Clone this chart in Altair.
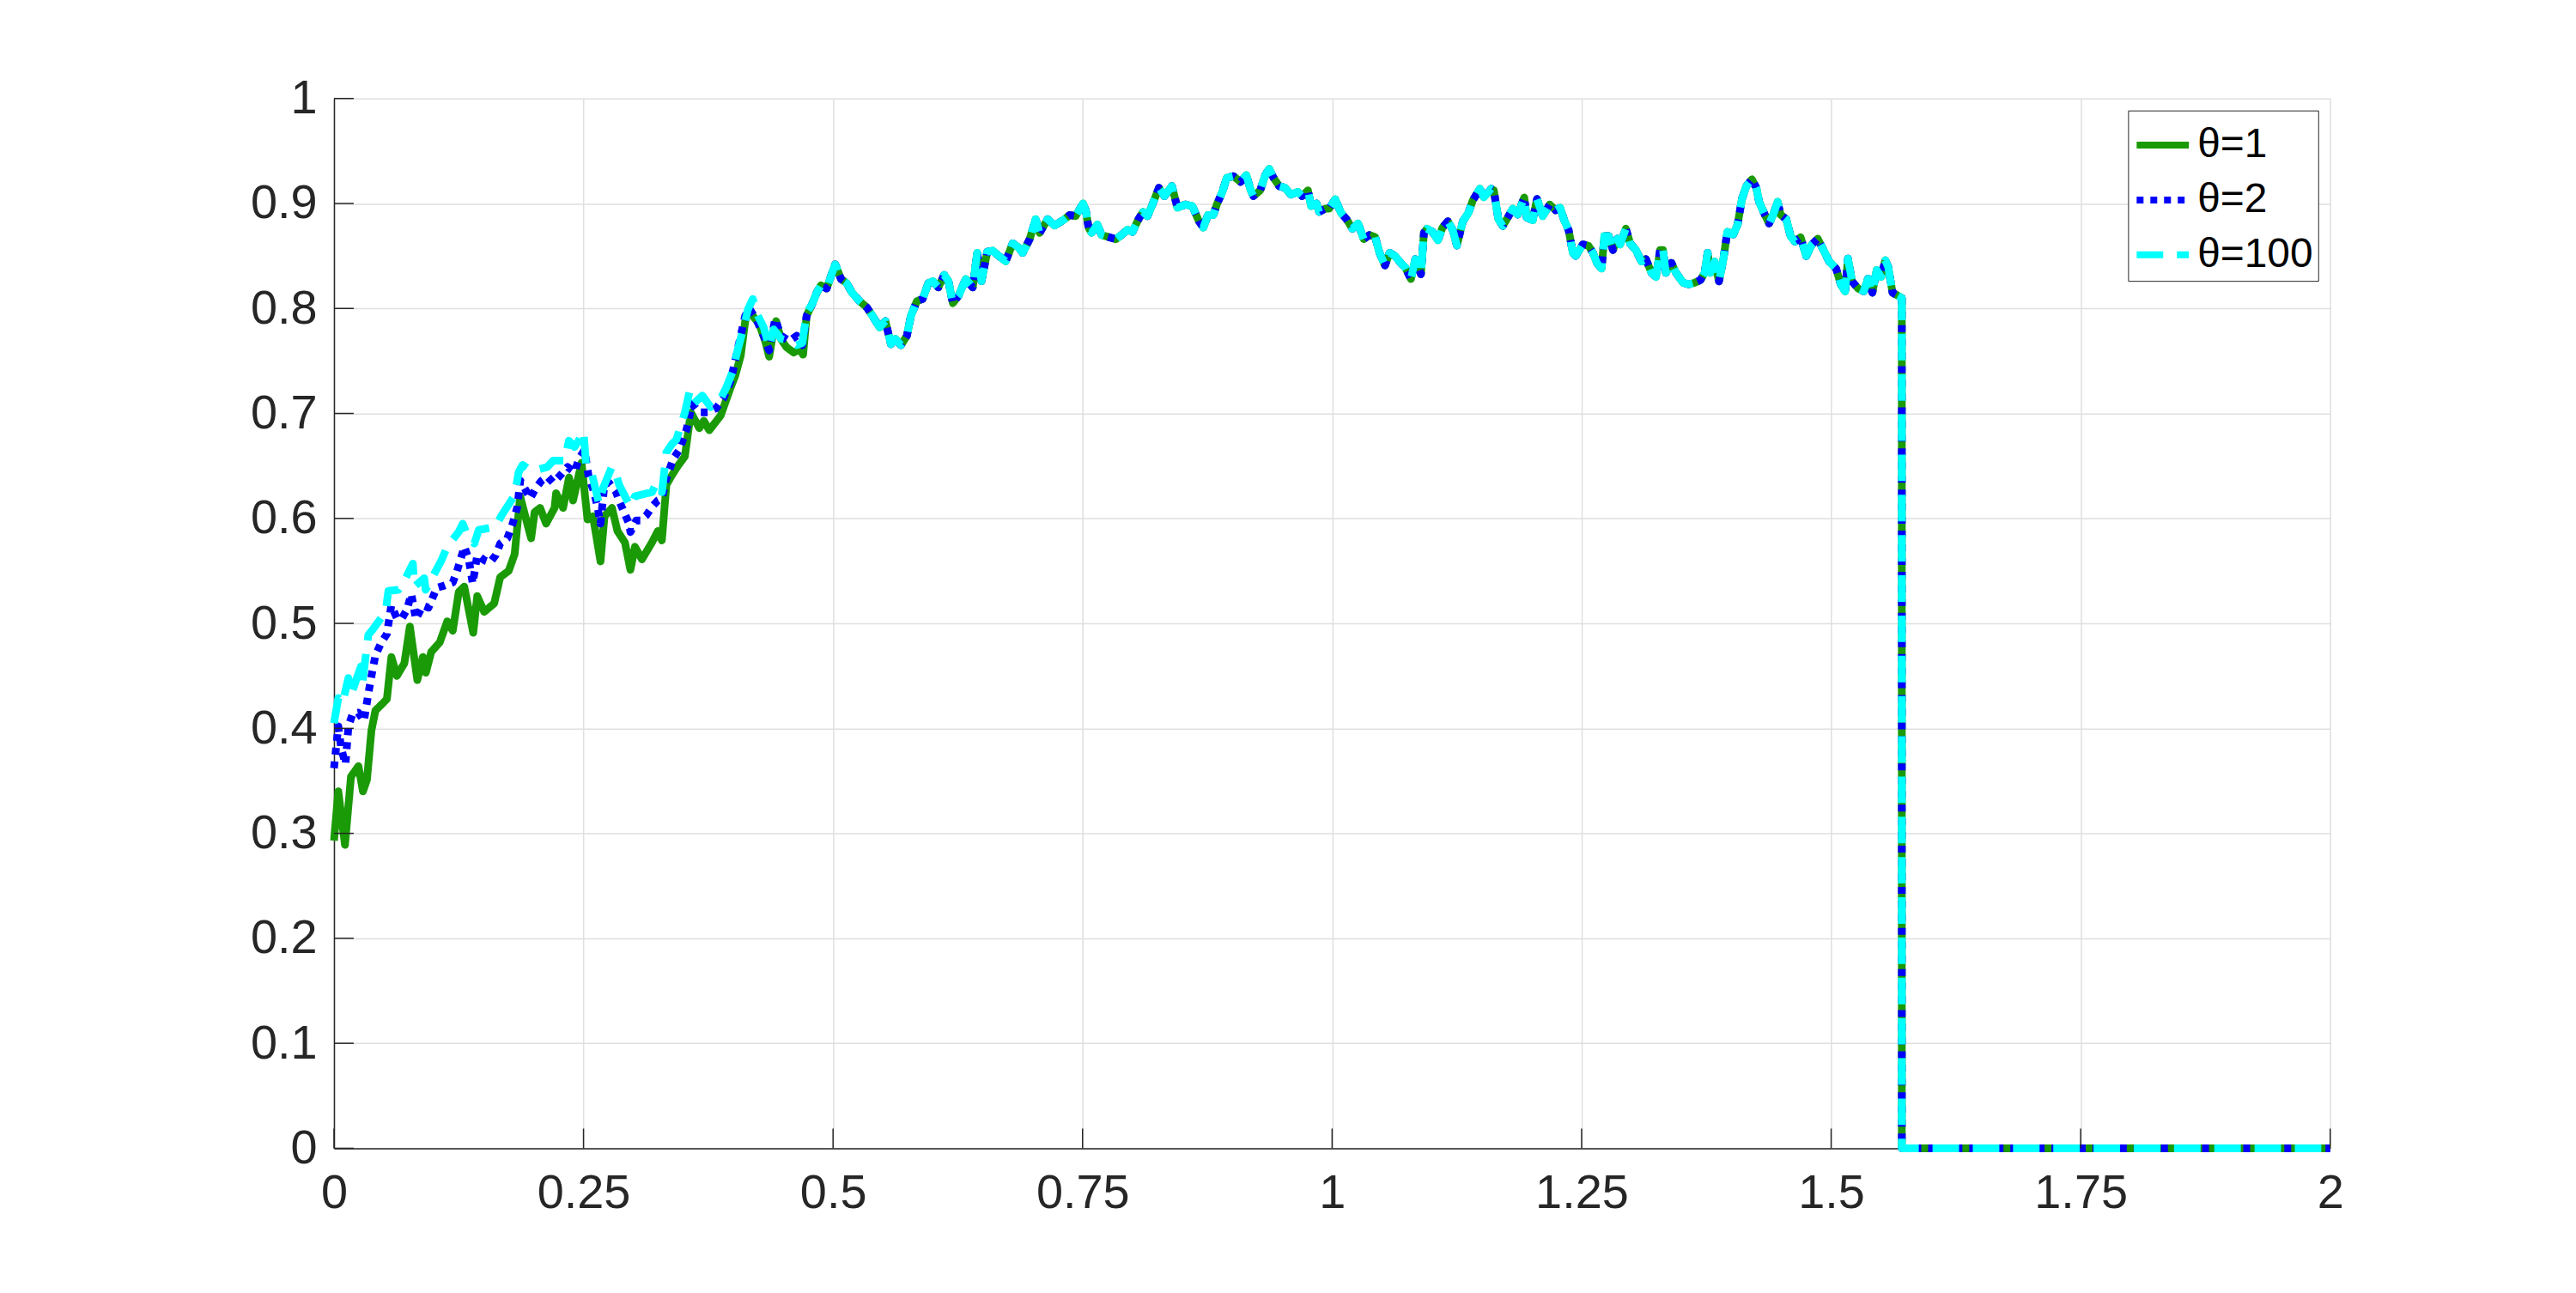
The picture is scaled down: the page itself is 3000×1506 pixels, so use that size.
import altair as alt
import pandas as pd

SERIES = ["θ=1", "θ=2", "θ=100"]
COLORS = ["#1a9a06", "#0000ff", "#00ffff"]
DASHES = [[1, 0], [8, 8], [31, 16]]

X_TICKS = [0, 0.25, 0.5, 0.75, 1, 1.25, 1.5, 1.75, 2]
Y_TICKS = [0, 0.1, 0.2, 0.3, 0.4, 0.5, 0.6, 0.7, 0.8, 0.9, 1.0]

# theta = 1 (green), the part where it differs from the others
green_early = [
    (0, 0.293), (0.0043, 0.340), (0.011, 0.289), (0.017, 0.354), (0.0245, 0.364),
    (0.029, 0.340), (0.033, 0.351), (0.0375, 0.398), (0.0415, 0.417), (0.049, 0.424),
    (0.053, 0.428), (0.0575, 0.468), (0.063, 0.450), (0.0705, 0.462), (0.076, 0.497),
    (0.0835, 0.446), (0.089, 0.468), (0.092, 0.453), (0.0975, 0.473), (0.106, 0.482),
    (0.1135, 0.502), (0.119, 0.493), (0.125, 0.530), (0.1305, 0.535), (0.1395, 0.491),
    (0.1435, 0.526), (0.1505, 0.511), (0.1605, 0.519), (0.1665, 0.544), (0.175, 0.550),
    (0.181, 0.566), (0.1865, 0.621), (0.1925, 0.599), (0.1975, 0.581), (0.201, 0.606),
    (0.2065, 0.610), (0.2125, 0.595), (0.221, 0.610), (0.2225, 0.624), (0.2295, 0.610),
    (0.2355, 0.639), (0.2395, 0.617), (0.248, 0.653), (0.254, 0.599), (0.2595, 0.602),
    (0.267, 0.559), (0.271, 0.602), (0.2785, 0.610), (0.284, 0.588), (0.2915, 0.577),
    (0.297, 0.551), (0.3015, 0.573), (0.3085, 0.561), (0.3185, 0.577), (0.3245, 0.588),
    (0.3285, 0.579), (0.333, 0.632), (0.3385, 0.641), (0.3445, 0.650), (0.3515, 0.659),
    (0.3575, 0.701), (0.366, 0.686), (0.3705, 0.693), (0.376, 0.684), (0.3874, 0.698),
    (0.3975, 0.725), (0.402, 0.736), (0.4075, 0.755), (0.412, 0.788), (0.416, 0.799),
    (0.4204, 0.792), (0.426, 0.785), (0.432, 0.769), (0.436, 0.754), (0.4405, 0.780),
    (0.443, 0.788), (0.4477, 0.771), (0.4534, 0.763), (0.4606, 0.758), (0.4663, 0.761),
    (0.47, 0.756), (0.4735, 0.793),
]

# theta = 2 (blue)
blue_early = [
    (0, 0.362), (0.0043, 0.402), (0.0072, 0.381), (0.0115, 0.366), (0.0145, 0.402),
    (0.0187, 0.414), (0.0244, 0.415), (0.030, 0.407), (0.0344, 0.433), (0.0387, 0.456),
    (0.0416, 0.470), (0.047, 0.481), (0.053, 0.490), (0.0574, 0.517), (0.063, 0.505),
    (0.0675, 0.504), (0.073, 0.513), (0.0775, 0.528), (0.082, 0.504), (0.089, 0.517),
    (0.0947, 0.515), (0.103, 0.534), (0.1105, 0.536), (0.119, 0.539), (0.123, 0.549),
    (0.1306, 0.573), (0.135, 0.561), (0.139, 0.538), (0.1435, 0.565), (0.1507, 0.560),
    (0.1564, 0.558), (0.162, 0.565), (0.1665, 0.576), (0.1736, 0.581), (0.179, 0.595),
    (0.1837, 0.611), (0.1866, 0.636), (0.192, 0.627), (0.1966, 0.619), (0.2023, 0.629),
    (0.208, 0.636), (0.2138, 0.640), (0.2196, 0.634), (0.2267, 0.641), (0.234, 0.649),
    (0.241, 0.644), (0.2454, 0.657), (0.251, 0.665), (0.2554, 0.638), (0.26, 0.627),
    (0.264, 0.611), (0.267, 0.595), (0.271, 0.633), (0.2755, 0.634), (0.2827, 0.625),
    (0.2856, 0.617), (0.2956, 0.595), (0.297, 0.587), (0.3028, 0.598), (0.307, 0.598),
    (0.313, 0.603), (0.3186, 0.611), (0.3243, 0.617), (0.3286, 0.619), (0.333, 0.638),
    (0.340, 0.657), (0.3458, 0.665), (0.353, 0.684), (0.3588, 0.709), (0.366, 0.701),
    (0.3745, 0.701), (0.383, 0.705), (0.39, 0.714), (0.3975, 0.731), (0.403, 0.755),
    (0.412, 0.793), (0.416, 0.800), (0.4234, 0.789), (0.4305, 0.774), (0.436, 0.760),
    (0.442, 0.790), (0.4477, 0.774), (0.4563, 0.769), (0.4635, 0.774), (0.4692, 0.765),
    (0.4735, 0.793),
]

# theta = 100 (cyan)
cyan_early = [
    (0, 0.405), (0.0043, 0.429), (0.0086, 0.424), (0.0144, 0.448), (0.017, 0.432),
    (0.027, 0.459), (0.0287, 0.445), (0.0344, 0.489), (0.0387, 0.494), (0.0517, 0.511),
    (0.0545, 0.531), (0.0646, 0.532), (0.0717, 0.543), (0.079, 0.557), (0.0804, 0.535),
    (0.0904, 0.543), (0.0918, 0.532), (0.1076, 0.560), (0.1134, 0.573), (0.1248, 0.587),
    (0.129, 0.595), (0.1335, 0.584), (0.1406, 0.576), (0.145, 0.589), (0.162, 0.592),
    (0.168, 0.603), (0.181, 0.622), (0.185, 0.644), (0.189, 0.651), (0.1966, 0.646),
    (0.2023, 0.646), (0.2138, 0.649), (0.2196, 0.655), (0.231, 0.655), (0.2353, 0.674),
    (0.241, 0.668), (0.245, 0.674), (0.25, 0.683), (0.2525, 0.652), (0.258, 0.644),
    (0.2655, 0.614), (0.27, 0.630), (0.2784, 0.649), (0.283, 0.641), (0.2856, 0.632),
    (0.297, 0.611), (0.3013, 0.621), (0.3186, 0.625), (0.323, 0.634), (0.3286, 0.625),
    (0.333, 0.663), (0.3387, 0.671), (0.343, 0.675), (0.3516, 0.701), (0.356, 0.720),
    (0.36, 0.709), (0.369, 0.717), (0.3774, 0.706), (0.3874, 0.714), (0.3932, 0.725),
    (0.399, 0.739), (0.4046, 0.761), (0.4104, 0.782), (0.4147, 0.799), (0.4196, 0.809),
    (0.4247, 0.793), (0.4305, 0.782), (0.436, 0.763), (0.4405, 0.780), (0.448, 0.771),
    (0.4563, 0.769), (0.4635, 0.765), (0.4692, 0.767), (0.4735, 0.796),
]

# common path of all three curves (they coincide from here on)
shared = [
    (0.479, 0.804), (0.4836, 0.815), (0.4879, 0.822), (0.4936, 0.819), (0.498, 0.831),
    (0.5022, 0.842), (0.508, 0.828), (0.5137, 0.824), (0.519, 0.815), (0.5266, 0.807),
    (0.5338, 0.801), (0.5395, 0.793), (0.5467, 0.782), (0.5524, 0.788), (0.558, 0.766),
    (0.5625, 0.771), (0.568, 0.765), (0.574, 0.774), (0.578, 0.793), (0.584, 0.807),
    (0.5897, 0.809), (0.5955, 0.824), (0.600, 0.826), (0.6055, 0.820), (0.6113, 0.832),
    (0.6156, 0.826), (0.620, 0.805), (0.6256, 0.812), (0.633, 0.828), (0.640, 0.820),
    (0.6444, 0.853), (0.6487, 0.826), (0.6545, 0.854), (0.660, 0.855), (0.666, 0.850),
    (0.673, 0.845), (0.680, 0.862), (0.686, 0.858), (0.690, 0.853), (0.697, 0.866),
    (0.703, 0.885), (0.707, 0.872), (0.715, 0.885), (0.722, 0.879), (0.732, 0.885),
    (0.737, 0.889), (0.743, 0.888), (0.7505, 0.900), (0.7533, 0.893), (0.756, 0.877),
    (0.759, 0.872), (0.7648, 0.880), (0.769, 0.870), (0.776, 0.868), (0.7835, 0.866),
    (0.789, 0.870), (0.795, 0.875), (0.800, 0.873), (0.806, 0.885), (0.8105, 0.892),
    (0.815, 0.888), (0.820, 0.899), (0.8265, 0.915), (0.832, 0.907), (0.8395, 0.9165),
    (0.845, 0.896), (0.853, 0.899), (0.860, 0.8975), (0.8666, 0.883), (0.871, 0.877),
    (0.8756, 0.889), (0.881, 0.889), (0.8845, 0.899), (0.890, 0.911), (0.8945, 0.9245),
    (0.9012, 0.926), (0.9083, 0.9205), (0.914, 0.927), (0.9185, 0.9125), (0.9212, 0.907),
    (0.928, 0.9125), (0.933, 0.927), (0.937, 0.933), (0.941, 0.925), (0.947, 0.9165),
    (0.9528, 0.915), (0.9586, 0.9085), (0.9657, 0.911), (0.970, 0.907), (0.9758, 0.9125),
    (0.979, 0.8975), (0.9844, 0.900), (0.987, 0.892), (0.993, 0.895), (0.997, 0.895),
    (1.0031, 0.904), (1.009, 0.891), (1.0145, 0.885), (1.0203, 0.876), (1.026, 0.881),
    (1.0317, 0.866), (1.0374, 0.870), (1.0432, 0.868), (1.0475, 0.853), (1.053, 0.841),
    (1.0576, 0.853), (1.063, 0.850), (1.069, 0.843), (1.0733, 0.839), (1.079, 0.828),
    (1.0834, 0.847), (1.089, 0.8325), (1.092, 0.872), (1.095, 0.876), (1.1006, 0.873),
    (1.106, 0.865), (1.1106, 0.877), (1.116, 0.883), (1.121, 0.8745), (1.125, 0.860),
    (1.131, 0.883), (1.1365, 0.891), (1.141, 0.903), (1.148, 0.914), (1.152, 0.906),
    (1.1594, 0.914), (1.162, 0.9125), (1.1666, 0.885), (1.171, 0.8786), (1.175, 0.885),
    (1.181, 0.895), (1.186, 0.8894), (1.1925, 0.9057), (1.195, 0.8867), (1.201, 0.884),
    (1.2053, 0.9043), (1.211, 0.888), (1.218, 0.899), (1.224, 0.8935), (1.2284, 0.896),
    (1.2326, 0.884), (1.237, 0.8745), (1.2412, 0.853), (1.244, 0.850), (1.2512, 0.861),
    (1.257, 0.8596), (1.2613, 0.853), (1.2655, 0.843), (1.27, 0.838), (1.2728, 0.869),
    (1.277, 0.869), (1.2814, 0.8556), (1.2857, 0.8664), (1.2886, 0.861), (1.2943, 0.876),
    (1.2986, 0.862), (1.3044, 0.8556), (1.310, 0.8447), (1.3144, 0.847), (1.320, 0.834),
    (1.3245, 0.830), (1.3286, 0.8556), (1.3315, 0.8556), (1.3344, 0.834), (1.340, 0.8434),
    (1.3445, 0.834), (1.3517, 0.8244), (1.3574, 0.823), (1.363, 0.8244), (1.369, 0.827),
    (1.3733, 0.834), (1.3762, 0.853), (1.379, 0.834), (1.3833, 0.8447), (1.3876, 0.8257),
    (1.392, 0.847), (1.396, 0.873), (1.402, 0.8705), (1.4063, 0.880), (1.4106, 0.9043),
    (1.415, 0.9165), (1.4206, 0.923), (1.425, 0.915), (1.4278, 0.9016), (1.4335, 0.8894),
    (1.4378, 0.881), (1.442, 0.8894), (1.4464, 0.9016), (1.4493, 0.8894), (1.455, 0.885),
    (1.4593, 0.869), (1.4636, 0.8637), (1.4694, 0.8678), (1.475, 0.850), (1.4808, 0.861),
    (1.4866, 0.8664), (1.4923, 0.8556), (1.498, 0.8447), (1.505, 0.838), (1.5096, 0.823),
    (1.514, 0.8163), (1.5168, 0.8474), (1.521, 0.8257), (1.527, 0.819), (1.5326, 0.8163),
    (1.537, 0.8285), (1.5413, 0.815), (1.5456, 0.8366), (1.55, 0.830), (1.5543, 0.846),
    (1.5572, 0.8393), (1.5615, 0.815), (1.5672, 0.812), (1.5708, 0.810), (1.5708, 0.0),
    (2.0, 0.0),
]

rows = []
for name, early in zip(SERIES, [green_early, blue_early, cyan_early]):
    for i, (t, v) in enumerate(early + shared):
        rows.append({"t": t, "v": v, "s": name, "i": i})
df = pd.DataFrame(rows)

W, H = 2331, 1226
TICK_LEN = 23
AXIS_COLOR = "#262626"
LABEL_EXPR = "'' + datum.value"

x_scale = alt.Scale(domain=[0, 2], nice=False, zero=False)
y_scale = alt.Scale(domain=[0, 1], nice=False)
x_axis = alt.Axis(values=X_TICKS, labelExpr=LABEL_EXPR, title=None, labelFlush=False,
                  labelOverlap=False, ticks=False, tickSize=0, labelPadding=25,
                  grid=True)
y_axis = alt.Axis(values=Y_TICKS, labelExpr=LABEL_EXPR, title=None, labelFlush=False,
                  labelOverlap=False, ticks=False, tickSize=0, labelPadding=20,
                  grid=True)

legend = alt.Legend(
    title=None, orient="none", legendX=2095, legendY=14,
    symbolType="stroke", symbolSize=3721, symbolStrokeWidth=8,
    labelFont="Liberation Sans", labelFontSize=48, labelColor="#000000",
    labelOffset=6, rowPadding=5, padding=6,
    strokeColor=AXIS_COLOR, fillColor="#ffffff", cornerRadius=0,
)

base = alt.Chart(df).mark_line(strokeWidth=9, strokeCap="butt", strokeJoin="round").encode(
    x=alt.X("t:Q", scale=x_scale, axis=x_axis),
    y=alt.Y("v:Q", scale=y_scale, axis=y_axis),
    color=alt.Color("s:N", scale=alt.Scale(domain=SERIES, range=COLORS), legend=legend),
    strokeDash=alt.StrokeDash("s:N", scale=alt.Scale(domain=SERIES, range=DASHES), legend=legend),
    order=alt.Order("i:Q"),
)

lines = [base.transform_filter(alt.datum.s == name) for name in SERIES]

xt = alt.Chart(pd.DataFrame({"t": X_TICKS})).mark_rule(color=AXIS_COLOR, strokeWidth=1.5).encode(
    x=alt.X("t:Q", scale=x_scale, axis=x_axis),
    y=alt.value(H), y2=alt.value(H - TICK_LEN),
)
yt = alt.Chart(pd.DataFrame({"v": Y_TICKS})).mark_rule(color=AXIS_COLOR, strokeWidth=1.5).encode(
    y=alt.Y("v:Q", scale=y_scale, axis=y_axis),
    x=alt.value(0), x2=alt.value(TICK_LEN),
)

chart = alt.layer(*lines, xt, yt).properties(
    width=W, height=H,
    autosize=alt.AutoSizeParams(type="none"),
    padding={"left": 382, "top": 105, "right": 279, "bottom": 160},
    background="#ffffff",
).configure_axis(
    labelFont="Liberation Sans", labelFontSize=56, labelColor=AXIS_COLOR,
    domainColor=AXIS_COLOR, domainWidth=1.5,
    gridColor="#dfdfdf", gridWidth=1.5,
).configure_view(strokeWidth=0)

chart.save("out.html", embed_options={"renderer": "svg", "actions": False})
